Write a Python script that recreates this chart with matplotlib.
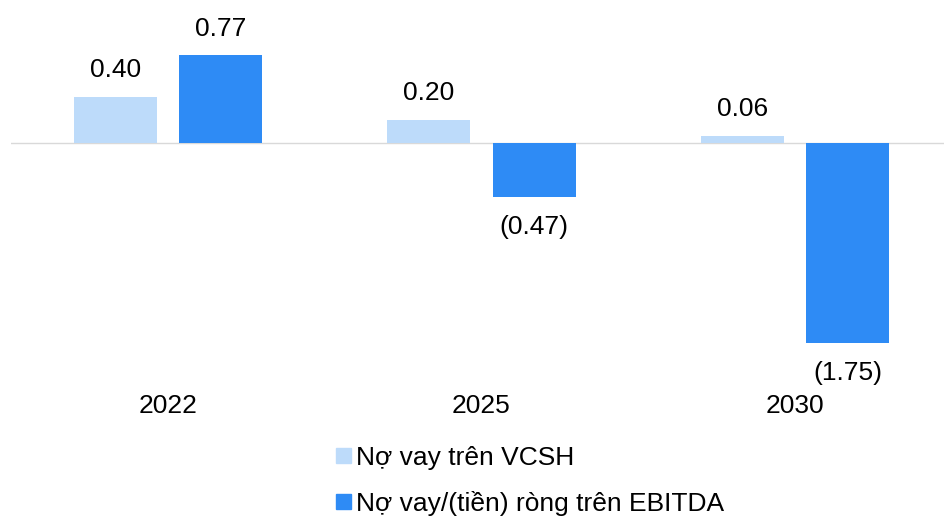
import matplotlib
matplotlib.use("Agg")
import matplotlib.pyplot as plt
import numpy as np
from matplotlib.patches import Patch

plt.rcParams['font.family'] = ['Liberation Sans', 'DejaVu Sans']

categories = ["2022", "2025", "2030"]
series_names = ["Nợ vay trên VCSH", "Nợ vay/(tiền) ròng trên EBITDA"]
debt_equity = [0.40, 0.20, 0.06]
net_debt_ebitda = [0.77, -0.47, -1.75]
colors = ["#BDDBFA", "#2E8BF5"]

def fmt(v):
    return f"({abs(v):.2f})" if v < 0 else f"{v:.2f}"

FS = 19
fig = plt.figure(figsize=(9.45, 5.16), dpi=100)
W, H = 945, 516
left_px, right_px = 11, 952
zero_px = 143
ppu = 114.0
ymax, ymin = 1.0, -2.15
top_px = zero_px - ymax * ppu
bot_px = zero_px - ymin * ppu
ax = fig.add_axes([left_px / W, 1 - bot_px / H, (right_px - left_px) / W, (bot_px - top_px) / H])
ax.set_xlim(-0.5, 2.5)
ax.set_ylim(ymin, ymax)

x = np.arange(len(categories))
bw = 83 / 313.5
off = 52.5 / 313.5
ax.bar(x - off, debt_equity, bw, color=colors[0], zorder=2)
ax.bar(x + off, net_debt_ebitda, bw, color=colors[1], zorder=2)
ax.axhline(0, color="#D9D9D9", lw=1.0, zorder=1)

for xi, v in zip(x - off, debt_equity):
    ax.annotate(fmt(v), (xi, v), xytext=(0, 11), textcoords="offset points",
                ha="center", va="bottom", fontsize=FS)
for xi, v in zip(x + off, net_debt_ebitda):
    if v >= 0:
        ax.annotate(fmt(v), (xi, v), xytext=(0, 10), textcoords="offset points",
                    ha="center", va="bottom", fontsize=FS)
    else:
        ax.annotate(fmt(v), (xi, v), xytext=(0, -13), textcoords="offset points",
                    ha="center", va="top", fontsize=FS)

ax.set_xticks(x)
ax.set_xticklabels(categories, fontsize=FS)
ax.tick_params(axis="x", length=0, pad=4)
ax.set_yticks([])
for s in ax.spines.values():
    s.set_visible(False)

handles = [Patch(color=c) for c in colors]
fig.legend(handles, series_names, loc="upper left", bbox_to_anchor=(336 / W, 1 - 446 / H),
           frameon=False, fontsize=FS, handlelength=0.55, handleheight=0.5,
           handletextpad=0.2, labelspacing=0.78, borderpad=0, borderaxespad=0)

fig.savefig("out.png", dpi=100)
